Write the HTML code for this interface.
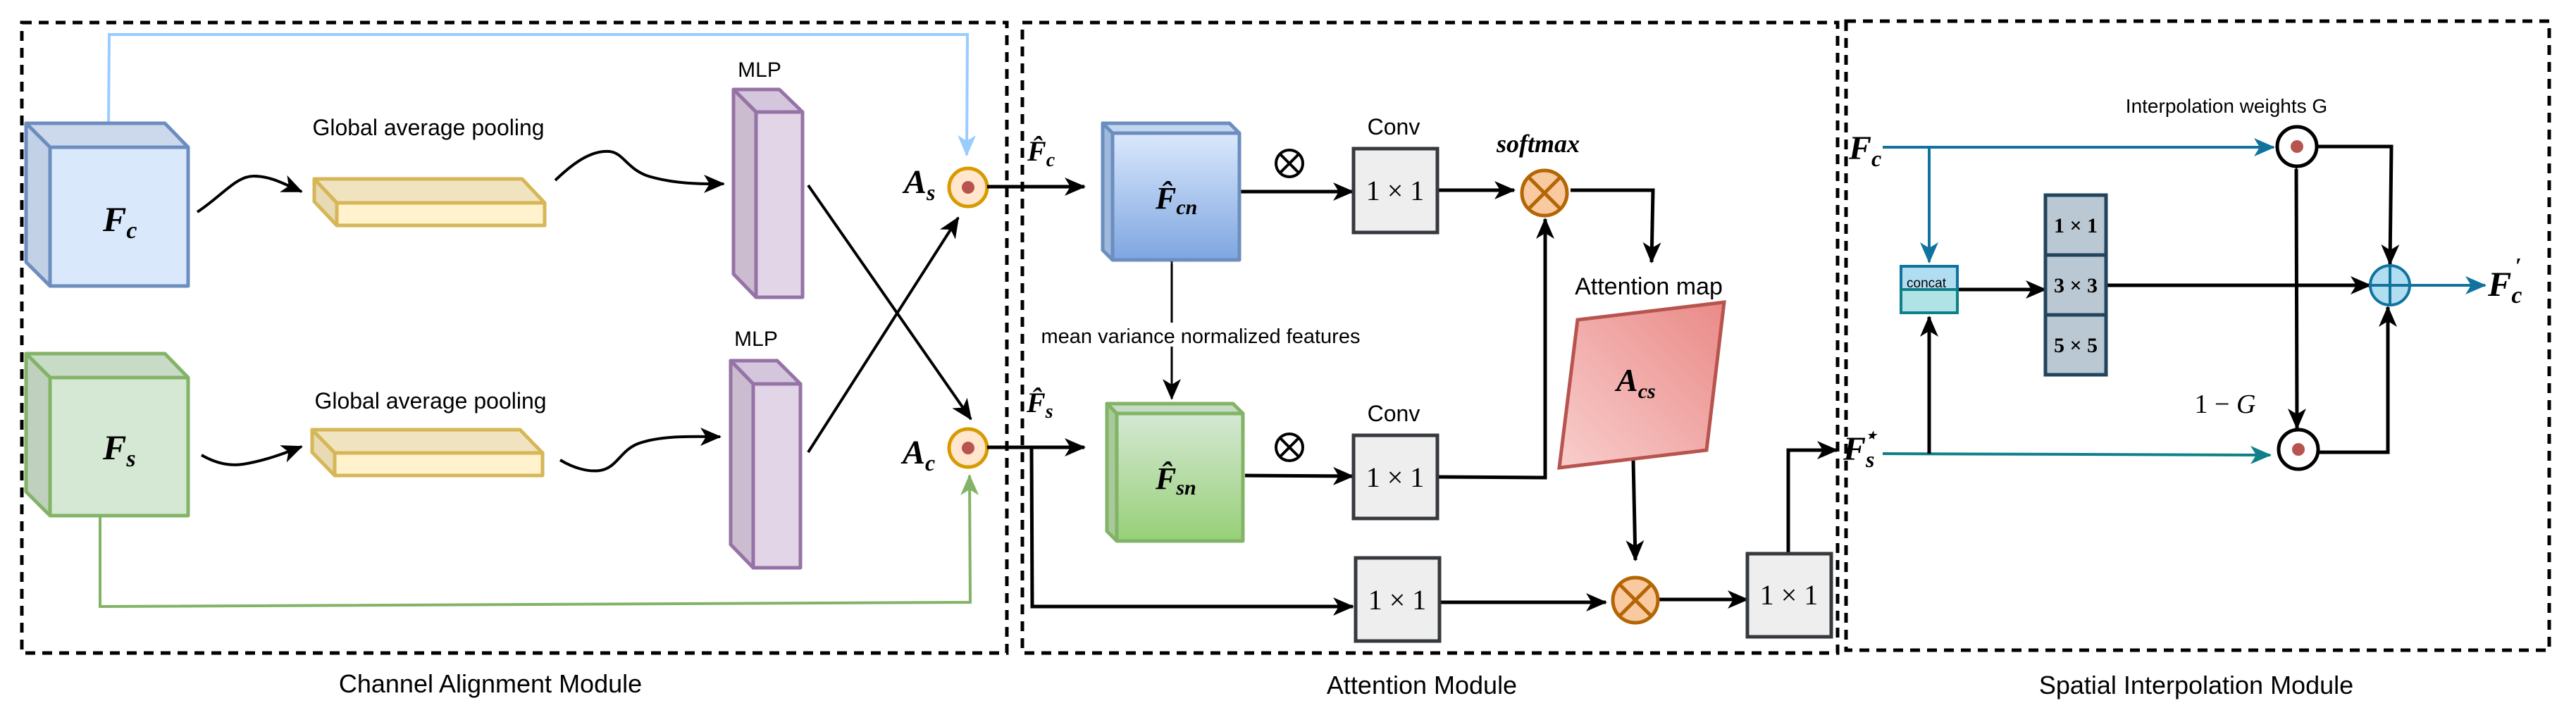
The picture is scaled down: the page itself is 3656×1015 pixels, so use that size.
<!DOCTYPE html>
<html><head><meta charset="utf-8"><style>
html,body{margin:0;padding:0;background:#fff;}
svg{display:block;}
.t{font-family:"Liberation Sans",sans-serif;fill:#000;}
.m{font-family:"Liberation Serif",serif;font-style:italic;font-weight:bold;fill:#000;}
.n{font-family:"Liberation Serif",serif;fill:#000;}
</style></head><body>
<svg width="3656" height="1015" viewBox="0 0 3656 1015" xmlns="http://www.w3.org/2000/svg">
<defs>
<marker id="ak" viewBox="0 0 30 30" refX="28" refY="15" markerWidth="30" markerHeight="30" markerUnits="userSpaceOnUse" orient="auto"><path d="M0,2 L30,15 L0,28 L8,15z" fill="#000"/></marker>
<marker id="ab" viewBox="0 0 30 30" refX="28" refY="15" markerWidth="30" markerHeight="30" markerUnits="userSpaceOnUse" orient="auto"><path d="M0,2 L30,15 L0,28 L8,15z" fill="#10739e"/></marker>
<marker id="at" viewBox="0 0 30 30" refX="28" refY="15" markerWidth="30" markerHeight="30" markerUnits="userSpaceOnUse" orient="auto"><path d="M0,2 L30,15 L0,28 L8,15z" fill="#0e8088"/></marker>
<marker id="al" viewBox="0 0 30 30" refX="28" refY="15" markerWidth="30" markerHeight="30" markerUnits="userSpaceOnUse" orient="auto"><path d="M0,2 L30,15 L0,28 L8,15z" fill="#99ccff"/></marker>
<marker id="ag" viewBox="0 0 30 30" refX="28" refY="15" markerWidth="30" markerHeight="30" markerUnits="userSpaceOnUse" orient="auto"><path d="M0,2 L30,15 L0,28 L8,15z" fill="#82b366"/></marker>
<linearGradient id="gb" x1="0" y1="0" x2="0" y2="1"><stop offset="0" stop-color="#dae8fc"/><stop offset="1" stop-color="#7ea6e0"/></linearGradient>
<linearGradient id="gg" x1="0" y1="0" x2="0" y2="1"><stop offset="0" stop-color="#d5e8d4"/><stop offset="1" stop-color="#97d077"/></linearGradient>
<linearGradient id="gr" x1="0" y1="1" x2="1" y2="0"><stop offset="0" stop-color="#f8cecc"/><stop offset="1" stop-color="#ea8a88"/></linearGradient>
</defs>

<g fill="none" stroke="#000" stroke-width="5" stroke-dasharray="14 10">
<rect x="31" y="32" width="1398" height="895"/>
<rect x="1451" y="32" width="1157" height="895"/>
<rect x="2620" y="30" width="998" height="893"/>
</g>
<text class="t" x="696" y="983" font-size="36" text-anchor="middle">Channel Alignment Module</text>
<text class="t" x="2018" y="985" font-size="36" text-anchor="middle">Attention Module</text>
<text class="t" x="3117" y="985" font-size="36" text-anchor="middle">Spatial Interpolation Module</text>

<polyline points="154,177 155,49 1373,49 1372,220" fill="none" stroke="#99ccff" stroke-width="4" marker-end="url(#al)"/>
<polyline points="142,732 142,861 1377,855 1376,675" fill="none" stroke="#82b366" stroke-width="4" marker-end="url(#ag)"/>

<g stroke="#6c8ebf" stroke-width="5" stroke-linejoin="round">
<polygon points="37,175 234,175 267,209 71,209" fill="#ccd9ec"/>
<polygon points="37,175 71,209 71,406 37,372" fill="#c3d1e6"/>
<rect x="71" y="209" width="196" height="197" fill="#dae8fc"/>
</g>
<text class="m" x="146" y="328" font-size="50">F<tspan font-size="34" dy="10">c</tspan></text>
<g stroke="#82b366" stroke-width="5" stroke-linejoin="round">
<polygon points="37,502 234,502 267,536 71,536" fill="#c7dbc6"/>
<polygon points="37,502 71,536 71,732 37,698" fill="#bfd1be"/>
<rect x="71" y="536" width="196" height="196" fill="#d5e8d4"/>
</g>
<text class="m" x="146" y="652" font-size="50">F<tspan font-size="34" dy="10">s</tspan></text>

<g stroke="#d6b656" stroke-width="5" stroke-linejoin="round">
<polygon points="446,254 741,254 773,288 478,288" fill="#f0e3c0"/>
<polygon points="446,254 478,288 478,320 446,286" fill="#e8dab4"/>
<rect x="478" y="288" width="295" height="32" fill="#fff2cc"/>
<polygon points="443,610 738,610 770,643 475,643" fill="#f0e3c0"/>
<polygon points="443,610 475,643 475,675 443,642" fill="#e8dab4"/>
<rect x="475" y="643" width="295" height="32" fill="#fff2cc"/>
</g>
<text class="t" x="608" y="192" font-size="32" text-anchor="middle">Global average pooling</text>
<text class="t" x="611" y="580" font-size="32" text-anchor="middle">Global average pooling</text>

<g stroke="#9673a6" stroke-width="5" stroke-linejoin="round">
<polygon points="1041,127 1106,127 1139,159 1073,159" fill="#d4c6dc"/>
<polygon points="1041,127 1073,159 1073,422 1041,389" fill="#cbbcd0"/>
<rect x="1073" y="159" width="66" height="263" fill="#e1d5e7"/>
<polygon points="1037,512 1103,512 1136,545 1069,545" fill="#d4c6dc"/>
<polygon points="1037,512 1069,545 1069,806 1037,773" fill="#cbbcd0"/>
<rect x="1069" y="545" width="67" height="261" fill="#e1d5e7"/>
</g>
<text class="t" x="1078" y="109" font-size="30" text-anchor="middle">MLP</text>
<text class="t" x="1073" y="491" font-size="30" text-anchor="middle">MLP</text>

<g fill="none" stroke="#000" stroke-width="4" marker-end="url(#ak)">
<path d="M280,301 C315,278 335,250 360,250 C385,250 405,262 428,272"/>
<path d="M788,256 C815,230 840,213 865,215 C885,217 890,240 920,250 C960,262 1000,261 1027,261"/>
<path d="M286,646 C305,657 325,662 345,659 C375,654 400,645 428,634"/>
<path d="M795,653 C815,665 835,670 851,668 C875,665 880,640 905,630 C940,617 990,620 1022,620"/>
<line x1="1147" y1="263" x2="1378" y2="595"/>
<line x1="1147" y1="642" x2="1360" y2="309"/>
</g>

<g stroke="#d79b00" stroke-width="5" fill="#ffe6cc">
<circle cx="1374" cy="266" r="27"/>
<circle cx="1374" cy="636" r="27"/>
</g>
<circle cx="1374" cy="266" r="9" fill="#b85450"/>
<circle cx="1374" cy="636" r="9" fill="#b85450"/>
<text class="m" x="1283" y="274" font-size="48">A<tspan font-size="32" dy="10">s</tspan></text>
<text class="m" x="1281" y="658" font-size="48">A<tspan font-size="32" dy="10">c</tspan></text>

<g fill="none" stroke="#000" stroke-width="5" marker-end="url(#ak)">
<line x1="1401" y1="265" x2="1539" y2="265"/>
<line x1="1401" y1="635" x2="1539" y2="635"/>
<polyline points="1464,635 1465,861 1920,861"/>
<line x1="1761" y1="272" x2="1920" y2="272"/>
<line x1="1767" y1="675" x2="1920" y2="676"/>
<line x1="2040" y1="270" x2="2149" y2="270"/>
<polyline points="2229,270 2346,270 2344,372"/>
<polyline points="2040,677 2193,678 2193,311"/>
<line x1="2318" y1="653" x2="2321" y2="795"/>
<line x1="2043" y1="855" x2="2279" y2="855"/>
<line x1="2354" y1="851" x2="2480" y2="851"/>
<polyline points="2538,786 2538,639 2607,639"/>
</g>
<line x1="1663" y1="374" x2="1663" y2="566" stroke="#000" stroke-width="3" marker-end="url(#ak)" marker-start="url(#ak)"/>

<text class="m" x="1458" y="228" font-size="40">F̂<tspan font-size="28" dy="8">c</tspan></text>
<text class="m" x="1457" y="585" font-size="40">F̂<tspan font-size="28" dy="8">s</tspan></text>

<g stroke="#6c8ebf" stroke-width="5" stroke-linejoin="round">
<polygon points="1565,175 1745,175 1759,189 1579,189" fill="#c3d6f0"/>
<polygon points="1565,175 1579,189 1579,369 1565,355" fill="#9fb9de"/>
<rect x="1579" y="189" width="180" height="180" fill="url(#gb)"/>
</g>
<text class="m" x="1640" y="296" font-size="44">F̂<tspan font-size="30" dy="8">cn</tspan></text>
<g stroke="#82b366" stroke-width="5" stroke-linejoin="round">
<polygon points="1571,573 1750,573 1764,587 1585,587" fill="#c6dbc4"/>
<polygon points="1571,573 1585,587 1585,768 1571,754" fill="#a9c99a"/>
<rect x="1585" y="587" width="179" height="181" fill="url(#gg)"/>
</g>
<text class="m" x="1640" y="694" font-size="44">F̂<tspan font-size="30" dy="8">sn</tspan></text>

<rect x="1470" y="458" width="470" height="34" fill="#fff"/>
<text class="t" x="1704" y="487" font-size="29" text-anchor="middle">mean variance normalized features</text>

<g fill="none" stroke="#000" stroke-width="4">
<circle cx="1830" cy="232" r="19"/><line x1="1817" y1="219" x2="1843" y2="245"/><line x1="1843" y1="219" x2="1817" y2="245"/>
<circle cx="1830" cy="635" r="19"/><line x1="1817" y1="622" x2="1843" y2="648"/><line x1="1843" y1="622" x2="1817" y2="648"/>
</g>

<g fill="#eeeeee" stroke="#36393d" stroke-width="5">
<rect x="1921" y="211" width="119" height="119"/>
<rect x="1921" y="618" width="119" height="118"/>
<rect x="1924" y="792" width="119" height="118"/>
<rect x="2480" y="786" width="119" height="118"/>
</g>
<g class="n" font-size="40" text-anchor="middle">
<text x="1980" y="284">1 × 1</text>
<text x="1980" y="691">1 × 1</text>
<text x="1983" y="865">1 × 1</text>
<text x="2539" y="858">1 × 1</text>
</g>
<text class="t" x="1978" y="191" font-size="32" text-anchor="middle">Conv</text>
<text class="t" x="1978" y="598" font-size="32" text-anchor="middle">Conv</text>
<text class="m" x="2183" y="216" font-size="36" text-anchor="middle">softmax</text>

<g stroke="#b46504" stroke-width="5">
<circle cx="2192" cy="274" r="32" fill="#f9c9a0"/>
<line x1="2170" y1="252" x2="2214" y2="296"/><line x1="2214" y1="252" x2="2170" y2="296"/>
<circle cx="2321" cy="852" r="32" fill="#f9c9a0"/>
<line x1="2299" y1="830" x2="2343" y2="874"/><line x1="2343" y1="830" x2="2299" y2="874"/>
</g>

<text class="t" x="2340" y="418" font-size="34" text-anchor="middle">Attention  map</text>
<polygon points="2239,454 2447,429 2422,639 2213,664" fill="url(#gr)" stroke="#b85450" stroke-width="5"/>
<text class="m" x="2294" y="555" font-size="46">A<tspan font-size="30" dy="10">cs</tspan></text>

<g fill="none" stroke-width="4">
<line x1="2672" y1="209" x2="3227" y2="209" stroke="#10739e" marker-end="url(#ab)"/>
<line x1="2738" y1="209" x2="2738" y2="372" stroke="#10739e" marker-end="url(#ab)"/>
<line x1="2672" y1="644" x2="3222" y2="646" stroke="#0e8088" marker-end="url(#at)"/>
<line x1="3420" y1="405" x2="3527" y2="405" stroke="#10739e" marker-end="url(#ab)"/>
</g>
<g fill="none" stroke="#000" stroke-width="5">
<line x1="2738" y1="644" x2="2738" y2="450" marker-end="url(#ak)"/>
<line x1="2779" y1="411" x2="2903" y2="411" marker-end="url(#ak)"/>
<line x1="2989" y1="405" x2="3364" y2="405" marker-end="url(#ak)"/>
<polyline points="3290,208 3394,208 3392,375" marker-end="url(#ak)"/>
<polyline points="3290,642 3389,642 3389,436" marker-end="url(#ak)"/>
<line x1="3259" y1="240" x2="3260" y2="608" marker-end="url(#ak)" marker-start="url(#ak)"/>
</g>

<text class="m" x="2624" y="226" font-size="48">F<tspan font-size="32" dy="10">c</tspan></text>
<text class="m" x="2616" y="653" font-size="48">F<tspan font-size="32" dy="10">s</tspan><tspan font-size="28" dx="-14" dy="-36">⋆</tspan></text>

<rect x="2698" y="378" width="80" height="33" fill="#b1ddf0" stroke="#10739e" stroke-width="4"/>
<rect x="2698" y="411" width="80" height="33" fill="#b0e3e6" stroke="#0e8088" stroke-width="4"/>
<text class="t" x="2706" y="408" font-size="19">concat</text>

<g fill="#bac8d3" stroke="#23445d" stroke-width="5">
<rect x="2903" y="277" width="86" height="85"/>
<rect x="2903" y="362" width="86" height="85"/>
<rect x="2903" y="447" width="86" height="85"/>
</g>
<g class="n" font-size="30" font-weight="bold" text-anchor="middle">
<text x="2946" y="330">1 × 1</text>
<text x="2946" y="415">3 × 3</text>
<text x="2946" y="500">5 × 5</text>
</g>

<g fill="#fff" stroke="#000" stroke-width="5">
<circle cx="3260" cy="208" r="28"/>
<circle cx="3262" cy="638" r="28"/>
</g>
<circle cx="3260" cy="208" r="9" fill="#b85450"/>
<circle cx="3262" cy="638" r="9" fill="#b85450"/>

<circle cx="3392" cy="405" r="28" fill="#b1ddf0" stroke="#10739e" stroke-width="4"/>
<line x1="3364" y1="405" x2="3420" y2="405" stroke="#10739e" stroke-width="4"/>
<line x1="3392" y1="377" x2="3392" y2="433" stroke="#10739e" stroke-width="4"/>

<text class="t" x="3160" y="160" font-size="28" text-anchor="middle">Interpolation weights G</text>
<text class="n" x="3158" y="586" font-size="38" text-anchor="middle">1 − <tspan font-style="italic">G</tspan></text>
<text class="m" x="3531" y="420" font-size="50">F<tspan font-size="34" dy="10">c</tspan><tspan font-size="32" dx="-10" dy="-42">′</tspan></text>
</svg>
</body></html>
